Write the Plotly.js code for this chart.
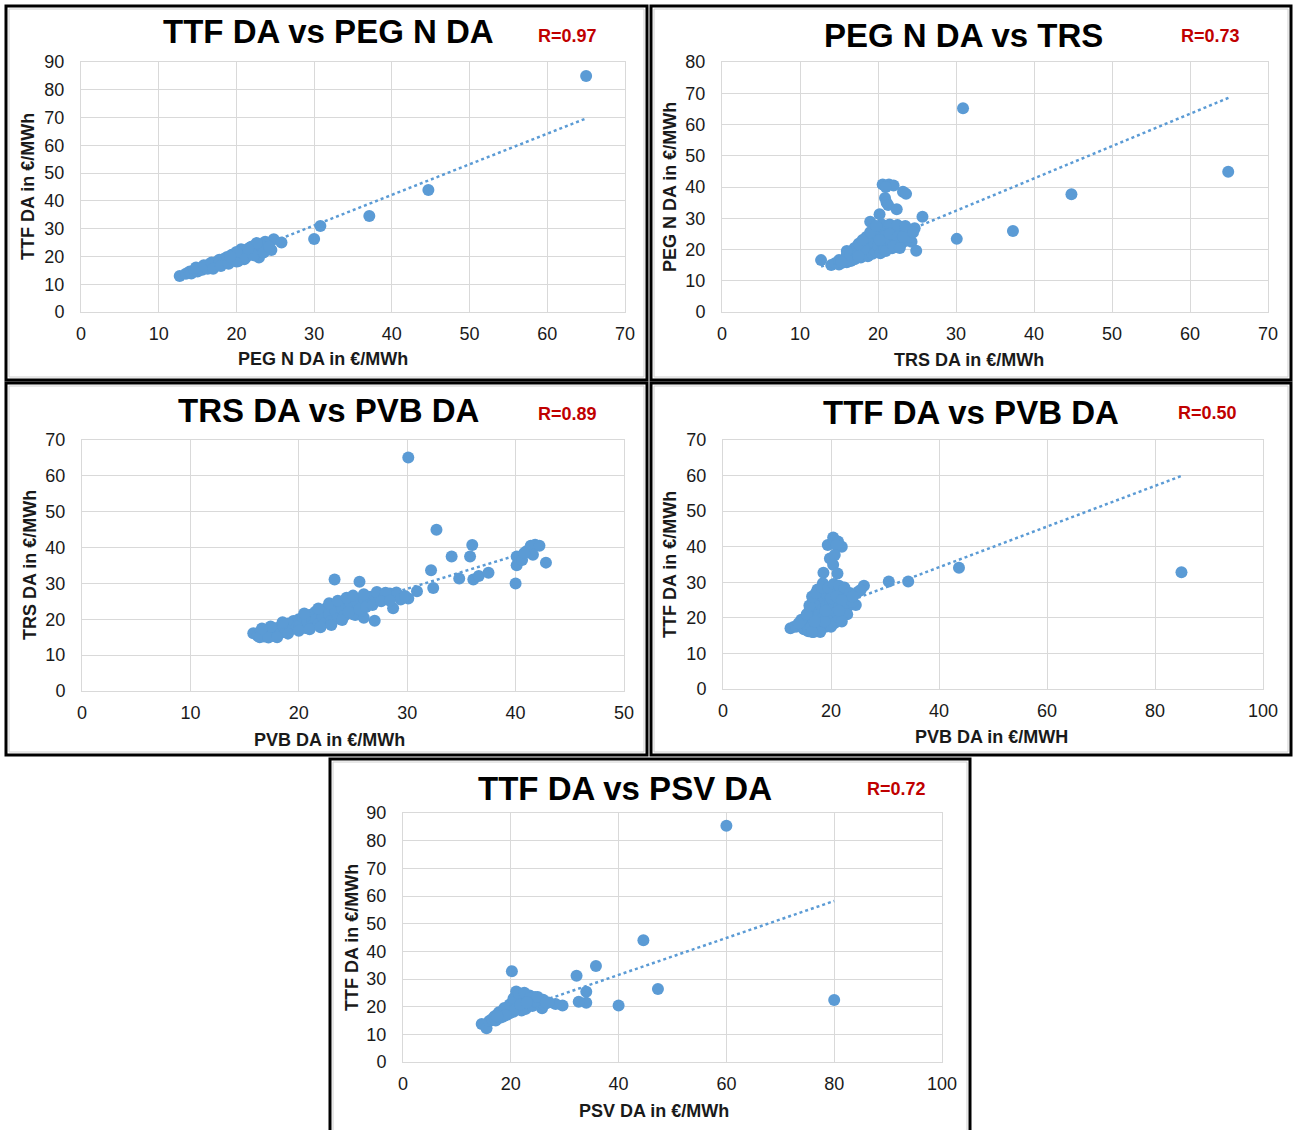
<!DOCTYPE html>
<html><head><meta charset="utf-8">
<script src="https://cdn.plot.ly/plotly-3.0.1.min.js"></script>
<style>html,body{margin:0;padding:0;background:#fff}#chart{width:1294px;height:1130px}</style>
</head><body><div id="chart"></div>
<script>
// ---------- DATA ----------
// Panel 1: TTF DA vs PEG N DA (x = PEG N DA, y = TTF DA)
const p1PegN = [12.7,13.5,14.0,14.2,14.6,15.0,15.2,15.6,16.0,16.3,16.7,17.0,17.3,17.6,18.0,18.2,18.6,18.9,19.2,19.5,19.8,20.0,20.3,20.5,20.8,21.0,21.3,21.6,21.9,22.2,22.5,22.8,23.1,23.4,23.8,20.6,21.8,19.4,18.4,17.4,16.4,22.6,21.0,20.2,22.9,24.5,24.8,25.8,23.7,30.0,30.8,37.1,44.7,65.0,
  14.8,15.8,16.8,17.8,18.8,19.8,20.8,22.0,23.0,17.0,18.0,19.0,20.0,21.2,22.2,23.5,24.2,22.6,21.5,20.0,19.2];
const p1Ttf  = [13.0,13.8,14.6,13.9,15.0,14.6,15.5,15.2,16.1,15.6,16.6,16.2,17.3,16.8,18.0,17.4,18.6,18.0,19.4,18.6,20.2,19.2,21.0,19.8,21.6,20.4,22.0,21.0,22.4,21.3,22.8,21.8,23.2,22.5,24.0,22.6,23.3,20.6,19.2,18.0,17.0,20.8,19.0,18.3,19.6,22.3,26.2,25.0,25.3,26.3,31.0,34.6,43.9,85.0,
  16.0,16.8,17.8,18.8,19.8,21.0,22.2,23.6,24.4,15.6,16.6,17.4,18.2,19.6,20.4,21.4,23.5,24.8,22.8,21.6,20.0];
const p1TrendX = [12.7, 65.0];
const p1TrendY = [12.1, 69.7];

// Panel 2: PEG N DA vs TRS (x = TRS DA, y = PEG N DA)
const p2Trs  = [12.7,30.9,64.9,44.8,37.3,30.1,25.7,24.7,24.3,24.9,20.6,21.4,22.0,21.0,23.2,23.6,20.9,21.1,21.3,22.4,20.2,19.0,
  14.0,14.5,15.0,15.0,15.5,15.8,16.0,16.5,16.5,17.0,17.0,17.0,17.5,17.8,18.0,18.0,18.5,18.5,18.7,19.0,19.0,19.3,19.5,19.5,19.8,20.0,20.0,20.0,20.3,20.5,20.5,20.8,21.0,21.0,21.2,21.5,21.5,21.8,22.0,22.0,22.3,22.5,22.8,23.0,23.0,23.4,23.6,23.8,24.0,24.2,16.0,18.2,
  16.0,17.5,18.5,19.5,20.5,21.5,22.5,23.5,21.5,22.5,19.0,20.2,21.0,22.0,23.2,24.5,18.0,19.8,22.8,17.5,16.0,15.3];
const p2PegN = [16.6,65.2,44.9,37.7,25.9,23.4,30.5,26.8,22.5,19.6,40.8,40.8,40.5,40.0,38.5,37.8,36.5,35.0,34.2,32.9,31.3,28.9,
  15.0,15.6,15.2,16.6,15.8,17.0,15.9,17.5,16.3,18.5,16.9,20.5,19.0,17.4,21.0,18.2,22.0,19.5,17.8,23.5,20.5,18.6,25.0,22.0,19.2,27.0,24.0,21.0,18.8,26.0,22.5,20.0,27.5,24.5,21.5,26.5,23.0,20.4,27.0,24.5,22.0,26.0,23.5,27.2,22.0,25.0,22.8,26.5,24.0,25.8,18.3,20.2,
  19.5,21.8,24.0,26.5,28.0,28.0,27.8,27.5,25.0,24.0,25.5,23.0,19.5,21.0,24.0,25.5,23.0,27.5,20.5,17.8,16.8,16.0];
const p2TrendX = [12.7, 65.0];
const p2TrendY = [14.5, 68.6];

// Panel 3: TRS DA vs PVB DA (x = PVB DA, y = TRS DA)
const p3Pvb = [30.1,32.7,36.0,34.1,35.8,32.2,34.8,36.1,36.6,37.5,32.4,30.9,30.1,40.1,40.1,40.0,40.6,41.0,41.4,41.8,42.2,41.6,40.8,42.8,23.3,25.6,27.0,28.7,28.4,25.2,26.0,29.0,
  15.8,16.2,16.5,16.8,17.0,17.3,17.6,17.8,18.0,18.3,18.6,18.8,19.0,19.3,19.5,19.8,20.0,20.1,20.4,20.6,20.8,21.0,21.2,21.5,21.6,21.8,22.0,22.2,22.4,22.6,22.8,23.0,23.2,23.4,23.6,23.8,24.0,24.2,24.5,24.7,25.0,25.2,25.5,25.8,26.0,26.4,26.6,27.0,27.4,27.8,28.2,28.6,29.0,29.4,29.8,16.4,17.2,18.0,
  19.0,20.0,21.0,22.0,23.0,24.0,20.5,21.8,22.8,23.6,24.4,25.0,26.0,27.2,28.0,24.6,25.6,26.2,26.8,27.6,28.4,18.5,17.4,16.6];
const p3Trs = [65.1,45.0,40.7,37.5,37.5,33.7,31.4,31.1,32.1,33.0,28.7,27.8,25.8,37.5,35.1,30.0,36.5,39.0,40.5,40.8,40.5,38.0,38.5,35.8,31.1,30.5,19.6,23.1,27.2,21.2,20.4,27.5,
  16.1,15.4,16.6,15.2,17.0,15.6,16.8,15.3,17.6,16.2,18.0,16.6,18.8,17.2,19.5,17.8,20.0,18.4,20.6,17.6,19.4,21.2,18.2,22.0,20.0,18.6,22.6,20.8,19.0,23.2,21.4,19.6,24.0,22.2,20.2,24.6,22.8,21.0,25.4,23.6,21.5,25.8,24.2,22.4,25.8,24.6,26.3,25.2,26.6,26.0,27.0,26.4,26.8,25.5,26.5,15.0,14.9,15.0,
  16.0,16.8,17.2,17.8,18.4,19.8,21.6,23.0,24.5,25.2,26.0,26.6,27.0,27.6,27.4,22.0,22.8,23.4,24.0,25.0,25.2,19.2,18.0,17.4];
const p3TrendX = [15.8, 42.6];
const p3TrendY = [15.3, 40.2];

// Panel 4: TTF DA vs PVB DA (x = PVB DA, y = TTF DA)
const p4Pvb = [84.9,43.7,34.3,30.7,26.1,25.1,24.6,12.5,19.4,20.4,21.3,22.0,21.0,19.8,20.7,20.4,21.2,18.6,18.5,
  13.5,14.5,15.0,15.0,15.5,15.8,16.0,16.0,16.3,16.5,16.8,16.8,17.0,17.0,17.3,17.5,17.5,17.8,18.0,18.0,18.2,18.5,18.5,18.8,19.0,19.0,19.2,19.5,19.5,19.8,20.0,20.0,20.3,20.5,20.6,20.8,21.0,21.2,21.5,21.5,21.8,22.0,22.2,22.5,22.8,23.0,23.5,24.0,25.5,17.5,
  14.5,15.5,16.0,16.5,17.2,18.3,19.5,20.5,21.5,22.5,23.5,24.0,23.0,22.0,20.0,18.0,16.5,14.0,18.8,20.0,21.0,22.0,19.0,17.0,21.5];
const p4Ttf = [32.8,34.1,30.2,30.2,29.0,27.4,23.6,17.1,40.5,42.6,41.5,40.0,40.5,36.7,37.7,34.9,32.5,32.7,29.7,
  17.5,17.8,16.8,19.0,18.0,16.2,20.0,22.0,17.5,24.0,19.0,16.0,21.5,25.5,23.0,17.0,19.5,21.0,24.0,26.5,18.0,22.5,20.0,25.5,17.5,27.0,23.5,21.0,19.0,25.0,27.5,22.5,20.0,24.5,18.5,26.5,21.5,28.0,23.5,19.5,25.5,27.0,22.0,24.5,26.0,23.0,25.5,24.5,27.8,28.0,
  19.5,21.0,23.5,26.0,27.0,28.5,28.5,29.5,29.0,28.5,27.0,26.0,21.0,19.0,17.5,16.0,16.0,18.5,19.0,25.5,26.0,25.0,22.0,19.0,22.0];
const p4TrendX = [12.5, 84.9];
const p4TrendY = [18.5, 59.9];

// Panel 5: TTF DA vs PSV DA (x = PSV DA, y = TTF DA)
const p5Psv = [60.0,80.0,44.6,35.8,32.2,20.2,47.3,40.0,34.0,34.0,32.6,14.6,15.5,29.6,28.3,25.8,
  16.0,16.5,17.0,17.2,17.6,18.0,18.3,18.6,19.0,19.2,19.6,19.8,20.2,20.5,20.8,21.0,21.0,21.2,21.5,21.8,22.0,22.2,22.5,22.8,23.0,23.2,23.5,23.8,24.0,24.5,24.8,25.2,25.5,26.0,26.2,27.0,22.0,22.4,
  17.8,18.8,19.8,20.5,21.5,22.5,23.5,24.5,25.0,26.5,20.8,21.8,23.0,19.0,17.5];
const p5Ttf = [85.4,22.4,44.0,34.7,31.2,32.8,26.4,20.4,25.4,21.4,21.8,13.7,12.2,20.4,21.0,19.4,
  14.8,15.5,16.5,15.0,17.2,16.0,17.8,16.4,18.6,17.0,19.5,17.6,20.5,18.2,22.0,24.0,25.5,19.5,21.5,23.0,20.0,24.5,21.8,19.2,23.5,20.8,24.0,22.2,20.2,23.5,21.5,22.8,21.0,22.5,20.8,21.5,18.6,23.0,
  18.0,19.5,20.8,23.0,24.8,25.0,23.0,22.0,23.5,21.5,19.0,20.8,21.5,17.0,16.5];
const p5TrendX = [14.6, 80.0];
const p5TrendY = [14.5, 58.2];

// Text
const titles = ["TTF DA vs PEG N DA","PEG N DA vs TRS","TRS DA vs PVB DA","TTF DA vs PVB DA","TTF DA vs PSV DA"];
const rLabels = ["R=0.97","R=0.73","R=0.89","R=0.50","R=0.72"];
const xTitles = ["PEG N DA in €/MWh","TRS DA in €/MWh","PVB DA in €/MWh","PVB DA in €/MWH","PSV DA in €/MWh"];
const yTitles = ["TTF DA in €/MWh","PEG N DA in €/MWh","TRS DA in €/MWh","TTF DA in €/MWh","TTF DA in €/MWh"];
const xMax = [70,70,50,100,100];
const xStep = [10,10,10,20,20];
const yMax = [90,80,70,70,90];

// ---------- LAYOUT (pixels) ----------
const W = 1294, H = 1130;
const FONT = "Liberation Sans, Arial, sans-serif";
const BLUE = "#5B9BD5";
// plot areas [left, right, top, bottom]
const plotBox = [[81,625,62,312],[722,1268,62,312],[82,624,440,691],[723,1263,440,689],[403,942,813,1062]];
// panel frames [x0,x1,y0,y1]
const frames = [[6,647,6,380],[651,1291,6,380],[6,647,383,755],[651,1291,383,755],[330,970,759,1140]];
const titlePos = [[328,31],[963,35],[328,410],[971,412],[625,788]];
const rPos = [[567,36],[1210,36],[567,414],[1207,413],[896,789]];
const xtPos = [[323,359],[969,360],[330,740],[992,737],[654,1111]];
const ytPos = [[28,187],[670,187],[30,565],[670,565],[352,938]];

const px = x => x / W;
const py = y => 1 - y / H;

const series = [
  [p1PegN, p1Ttf, p1TrendX, p1TrendY],
  [p2Trs, p2PegN, p2TrendX, p2TrendY],
  [p3Pvb, p3Trs, p3TrendX, p3TrendY],
  [p4Pvb, p4Ttf, p4TrendX, p4TrendY],
  [p5Psv, p5Ttf, p5TrendX, p5TrendY]
];

const data = [];
const layout = {
  width: W, height: H,
  margin: {l:0, r:0, t:0, b:0},
  paper_bgcolor: "#ffffff", plot_bgcolor: "#ffffff",
  showlegend: false,
  font: {family: FONT, color: "#1a1a1a"},
  shapes: [], annotations: []
};

series.forEach((s, i) => {
  const n = i === 0 ? "" : String(i + 1);
  const xa = "x" + n, ya = "y" + n;
  data.push({x: s[2], y: s[3], xaxis: xa, yaxis: ya, type: "scatter", mode: "lines",
    line: {color: BLUE, width: 2.5, dash: "dot"}, hoverinfo: "skip"});
  data.push({x: s[0], y: s[1], xaxis: xa, yaxis: ya, type: "scatter", mode: "markers",
    marker: {color: BLUE, size: 12}});
  const b = plotBox[i];
  const axCommon = {
    showgrid: true, gridcolor: "#d9d9d9", gridwidth: 1,
    zeroline: false, showline: true, linecolor: "#d9d9d9", linewidth: 1, mirror: true,
    ticks: "", tickfont: {family: FONT, size: 18, color: "#1a1a1a"}, fixedrange: true
  };
  layout["xaxis" + n] = Object.assign({}, axCommon, {
    domain: [px(b[0]), px(b[1])], range: [0, xMax[i]], dtick: xStep[i], tick0: 0,
    anchor: ya, ticklabelstandoff: 5
  });
  layout["yaxis" + n] = Object.assign({}, axCommon, {
    domain: [py(b[3]), py(b[2])], range: [0, yMax[i]], dtick: 10, tick0: 0,
    anchor: xa, ticklabelstandoff: 12
  });
  const f = frames[i];
  layout.shapes.push({type: "rect", xref: "paper", yref: "paper",
    x0: px(f[0] + 3), x1: px(f[1] - 3), y0: py(f[2] + 3), y1: py(f[3] - 3),
    line: {color: "#d0d0d0", width: 1}, layer: "below"});
  layout.shapes.push({type: "rect", xref: "paper", yref: "paper",
    x0: px(f[0]), x1: px(f[1]), y0: py(f[2]), y1: py(f[3]),
    line: {color: "#000000", width: 3}});
  layout.annotations.push({text: "<b>" + titles[i] + "</b>", xref: "paper", yref: "paper",
    x: px(titlePos[i][0]), y: py(titlePos[i][1]), xanchor: "center", yanchor: "middle",
    showarrow: false, font: {family: FONT, size: 33, color: "#000000"}});
  layout.annotations.push({text: "<b>" + rLabels[i] + "</b>", xref: "paper", yref: "paper",
    x: px(rPos[i][0]), y: py(rPos[i][1]), xanchor: "center", yanchor: "middle",
    showarrow: false, font: {family: FONT, size: 18, color: "#C00000"}});
  layout.annotations.push({text: "<b>" + xTitles[i] + "</b>", xref: "paper", yref: "paper",
    x: px(xtPos[i][0]), y: py(xtPos[i][1]), xanchor: "center", yanchor: "middle",
    showarrow: false, font: {family: FONT, size: 18, color: "#1a1a1a"}});
  layout.annotations.push({text: "<b>" + yTitles[i] + "</b>", xref: "paper", yref: "paper",
    x: px(ytPos[i][0]), y: py(ytPos[i][1]), xanchor: "center", yanchor: "middle", textangle: -90,
    showarrow: false, font: {family: FONT, size: 18, color: "#1a1a1a"}});
});

Plotly.newPlot("chart", data, layout, {displayModeBar: false, staticPlot: true});
</script>
</body></html>
